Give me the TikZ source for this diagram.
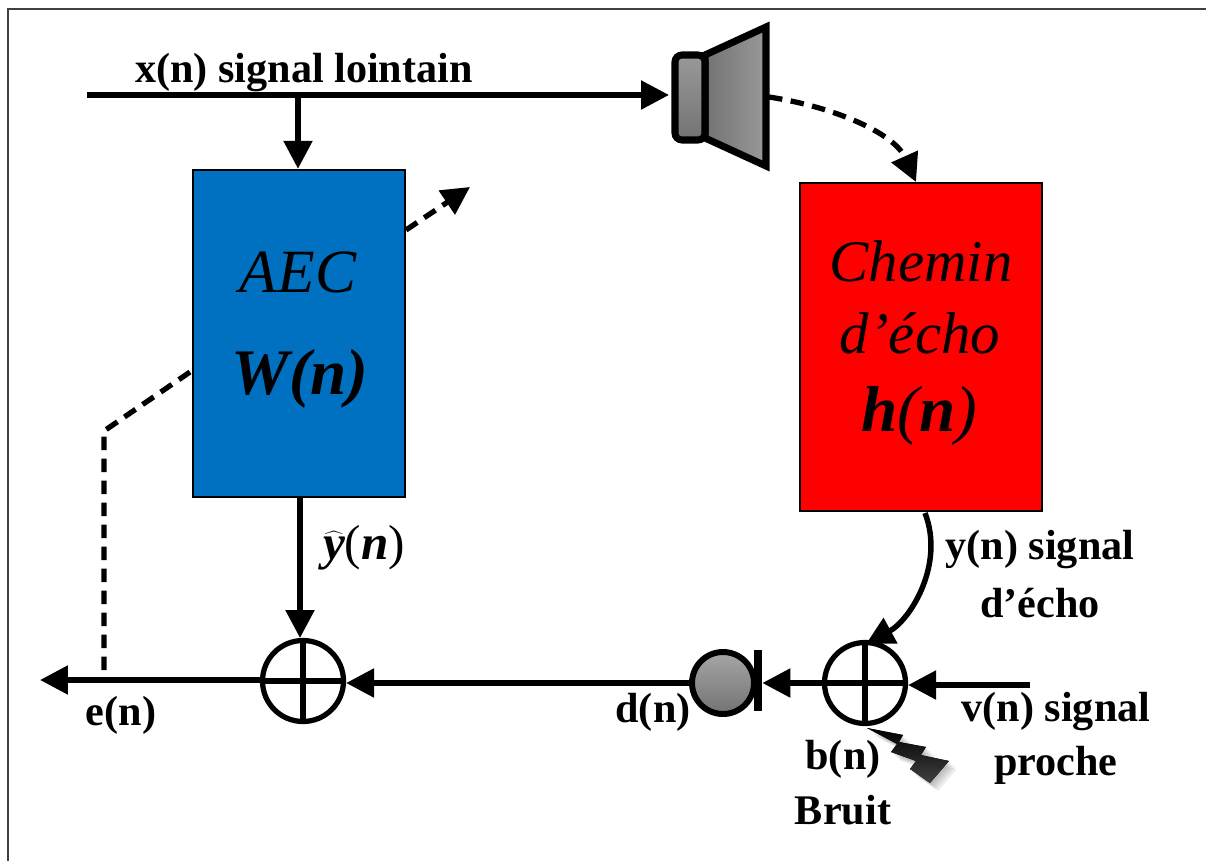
\documentclass[tikz,border=0pt]{standalone}
\usepackage{fontspec}
\setmainfont{Liberation Serif}
\usetikzlibrary{arrows.meta}
\begin{document}
\begin{tikzpicture}[
        x=0.02cm, y=-0.02cm,
        signal/.style={line width=3.1pt, -{Triangle[length=0.56cm, width=0.56cm]}},
        dashed signal/.style={line width=3pt, dash pattern=on 0.27cm off 0.17cm},
        block/.style={draw=black, line width=1.4pt, inner sep=0pt},
        sum/.style={circle, draw=black, line width=3pt, minimum size=1.62cm, inner sep=0pt},
        label text/.style={font=\fontsize{24}{28}\selectfont\bfseries, inner sep=0pt},
        block text/.style={font=\fontsize{35}{42}\selectfont\itshape, inner sep=0pt},
        echo text/.style={font=\fontsize{33.5}{40}\selectfont\itshape, inner sep=0pt},
        block bold/.style={font=\fontsize{37}{44}\selectfont\bfseries\itshape, inner sep=0pt},
        every node/.style={color=black}
        ]
        \useasboundingbox (0,0) rectangle (1206,861);
        % Frame
        \draw[line width=1pt, color=black!75] (8,861) -- (8,9) -- (1206,9);
        % Blocks
        \node(aec)[block, fill={rgb,255:red,0;green,112;blue,192}, minimum width=4.24cm, minimum height=6.54cm] at (299,333.5) {};
        \node(chemin)[block, fill=red, minimum width=4.84cm, minimum height=6.56cm] at (921,347) {};
        % Sums
        \node(sumA)[sum] at (303,681) {};
        \node(sumB)[sum] at (865,683) {};
        \draw[line width=3pt] (sumA.north) -- (sumA.south);
        \draw[line width=3pt] (sumA.west) -- (sumA.east);
        \draw[line width=3pt] (sumB.north) -- (sumB.south);
        \draw[line width=3pt] (sumB.west) -- (sumB.east);
        % Microphone
        \node(mic)[circle, draw=black, line width=3.4pt, minimum size=1.24cm, inner sep=0pt, top color=black!35, bottom color=black!55] at (723,683) {};
        \node(micbar)[fill=black, inner sep=0pt, minimum width=0.16cm, minimum height=1.22cm] at (758,680) {};
        % Speaker
        \draw[line width=4pt, line join=miter, left color=black!55, right color=black!40] (705,55) coordinate (coneA) -- (766,27) -- (766,166) -- (705,138) -- cycle;
        \draw[line width=4pt, rounded corners=4pt, top color=black!40, bottom color=black!55] (705,55) -- (675,55) -- (675,140) -- (705,140) -- cycle;
        \coordinate (spkin) at (669,95);
        \coordinate (spkout) at (769,97);
        % Noise
        \foreach \shift in {8,6,4,2}
            \fill[black, opacity=0.07, xshift=\shift*0.02cm, yshift=-\shift*0.02cm] (867,728) -- (903,735) -- (899,742) -- (926,747) -- (921,755) -- (949,761) -- (930,783) -- (910,769) -- (916,761) -- (891,752) -- (897,744) -- cycle;
        \fill[top color=black, bottom color=black!75] (867,728) -- (903,735) -- (899,742) -- (926,747) -- (921,755) -- (949,761) -- (930,783) -- (910,769) -- (916,761) -- (891,752) -- (897,744) -- cycle;
        % Input line
        \coordinate (xstart) at (87,95);
        \coordinate (xtap) at (298,95);
        \draw[signal] (xstart) -- (spkin);
        \draw[signal] (xtap) -- (xtap |- aec.north);
        % Adaptation
        \coordinate (adaptA) at (406,230);
        \coordinate (adaptB) at (470,187);
        \draw[dashed signal, -{Triangle[length=0.56cm, width=0.56cm]}] (adaptA) -- (adaptB);
        \coordinate (errA) at (190,372);
        \coordinate (errB) at (104,431);
        \coordinate (errC) at (104,680);
        \draw[dashed signal] (errA) -- (errB) -- (errC);
        % Echo path
        \draw[dashed signal, -{Triangle[length=0.56cm, width=0.56cm]}] (spkout) .. controls (840,108) and (895,135) .. (916,182);
        \coordinate (yout) at (925,513);
        \draw[signal] (yout) .. controls (945,565) and (910,620) .. (866,644);
        % Bottom line
        \coordinate (eend) at (40,680);
        \coordinate (vstart) at (1030,685);
        \draw[signal] (vstart) -- (sumB.east |- vstart);
        \draw[signal] (sumB.west) -- (micbar.east |- sumB.west);
        \draw[signal] (mic.west) -- (sumA.east |- mic.west);
        \draw[signal] (sumA.west |- eend) -- (eend);
        \draw[signal] (300,497) -- (300,638);
        % Block labels
        \node(aecname)[block text] at (298,272) {AEC};
        \node(aecw)[block bold] at (300,379) {W(n)};
        \node(chname)[echo text] at (921,261) {Chemin};
        \node(checho)[echo text] at (920,333) {d’écho};
        \node(chh)[block bold] at (919,416) {h{\mdseries(}n{\mdseries)}};
        % Signal labels
        \node(xlabel)[label text] at (304,73) {x(n) signal lointain};
        \node(yhat)[font=\fontsize{28}{33}\selectfont, inner sep=0pt] at (364,548) {$\widehat{\hbox{\bfseries\itshape y}}$(\textbf{\textit{n}})};
        \node(ylabel)[label text] at (1040,550) {y(n) signal};
        \node(ylabelb)[label text] at (1040,603) {d’écho};
        \node(vlabel)[label text] at (1056,712) {v(n) signal};
        \node(vlabelb)[label text] at (1056,765) {proche};
        \node(blabel)[label text] at (843,759) {b(n)};
        \node(blabelb)[label text] at (843,810) {Bruit};
        \node(dlabel)[label text] at (653,712) {d(n)};
        \node(elabel)[label text] at (121,715) {e(n)};
    \end{tikzpicture}
\end{document}
